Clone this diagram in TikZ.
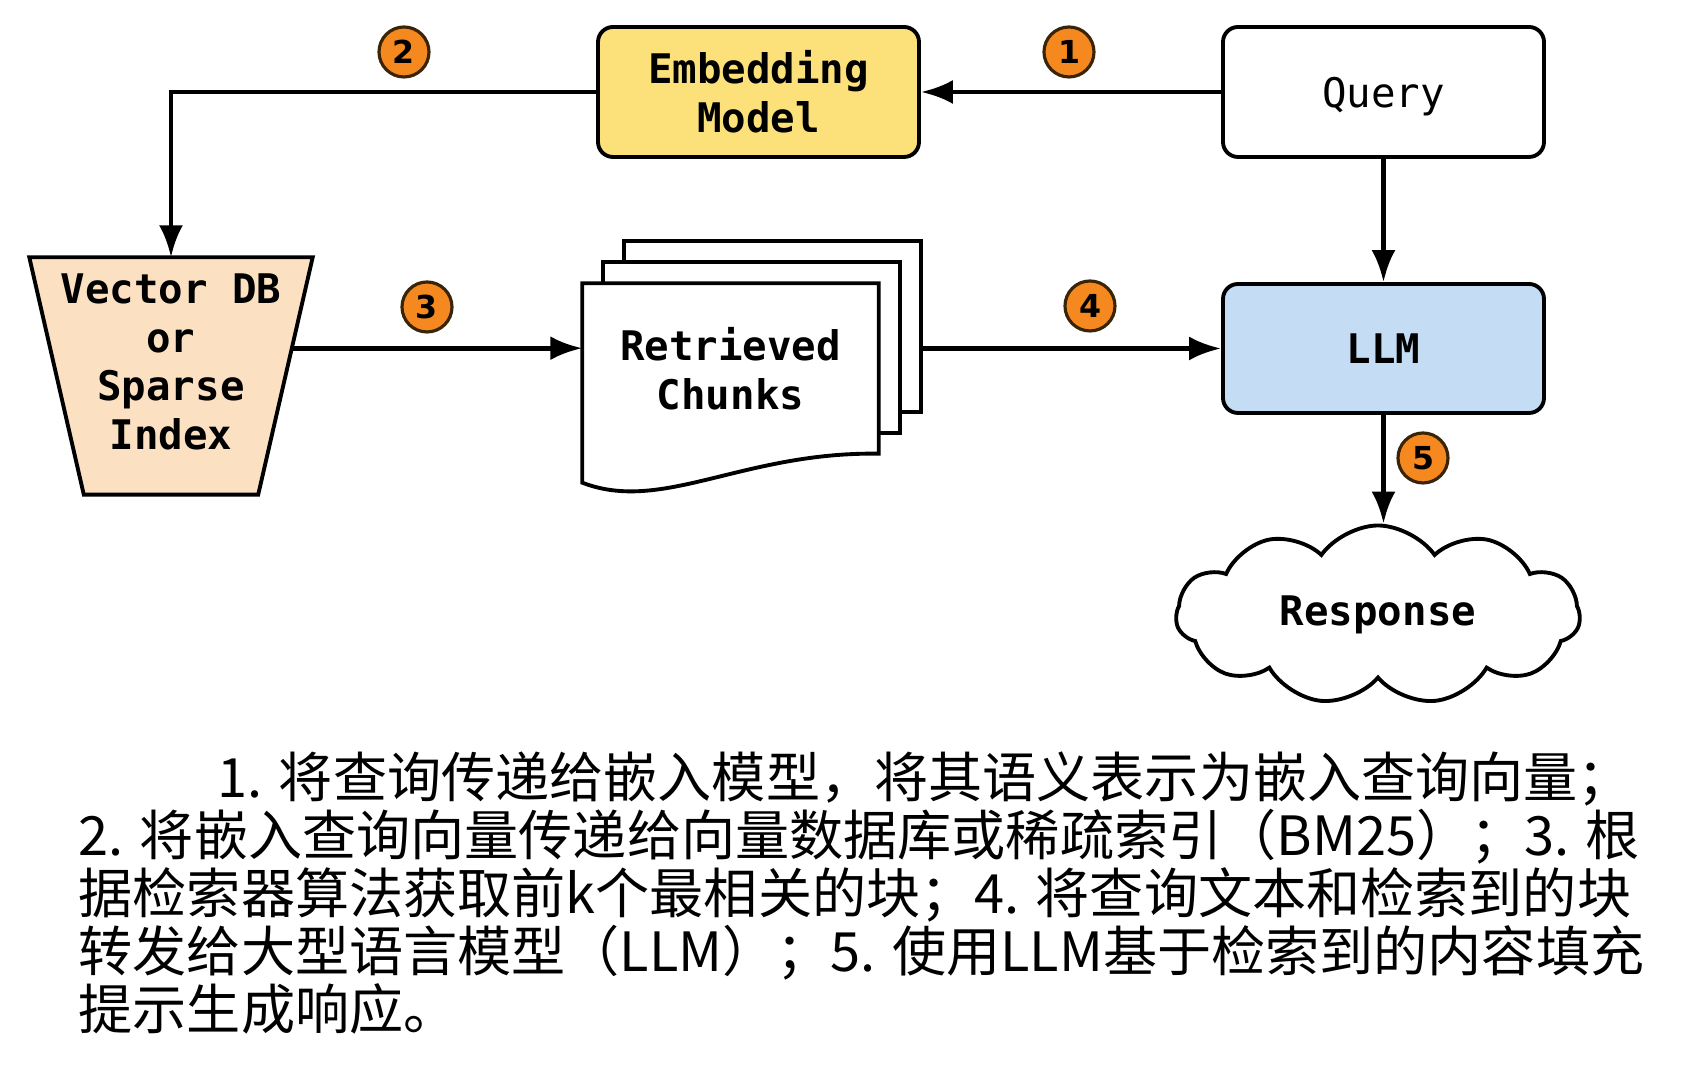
\documentclass[tikz,border=0pt]{standalone}
\usepackage{fontspec}
\usepackage{tikz}
\usetikzlibrary{arrows.meta, shapes.symbols, backgrounds, calc}
\newfontfamily\boxfont{DejaVu Sans Mono}
\newfontfamily\badgefont{DejaVu Sans}
\newfontfamily\cjk{Noto Sans CJK SC}
\newcommand{\nodetextsize}{\fontsize{11.6}{13.9}\selectfont}
\definecolor{embyellow}{HTML}{FCE17A}
\definecolor{llmblue}{HTML}{C4DDF4}
\definecolor{dbpeach}{HTML}{FCE0C2}
\definecolor{badgeorange}{HTML}{F5891F}
\definecolor{badgeline}{HTML}{3A2408}
\tikzstyle{box}=[rectangle, draw=black, line width=1.1pt, rounded corners=1.5mm, minimum width=3.21cm, minimum height=1.3cm, align=center, font=\boxfont\bfseries\nodetextsize]
\tikzstyle{plain}=[rectangle, inner sep=0pt, align=center, font=\boxfont\bfseries\nodetextsize]
\tikzstyle{shapeline}=[draw=black, line width=1.1pt]
\tikzstyle{badge}=[circle, fill=badgeorange, draw=badgeline, line width=0.9pt, minimum size=0.5cm, inner sep=0pt, font=\badgefont\bfseries\fontsize{9}{10}\selectfont]
\tikzstyle{arrow}=[draw=black, line width=1.4pt, >={Latex[length=3.2mm, width=2.4mm]}]

\begin{document}
\begin{tikzpicture}
	\useasboundingbox (0, 0) rectangle (16.99, 10.75);
	\begin{scope}
		\node (emb) at (7.585, 9.83)[box, fill=embyellow] {Embedding\\Model};
		\node (query) at (13.835, 9.83)[box, fill=white, text depth=0pt, font=\boxfont\nodetextsize] {Query};
		\node (llm) at (13.835, 7.265)[box, fill=llmblue, minimum height=1.29cm] {LLM};
		\node (vdb) at (1.71, 7.13)[plain, minimum width=2.82cm, minimum height=2.08cm] {Vector DB\\or\\Sparse\\Index};
		\node (chunks) at (7.305, 7.065)[plain, minimum width=2.95cm, minimum height=1.69cm] {Retrieved\\Chunks};
		\node (resp) at (13.78, 4.60)[cloud, shapeline, fill=white, cloud puffs=11, cloud puff arc=110, aspect=2.3, minimum width=4.04cm, minimum height=1.79cm, font=\boxfont\bfseries\nodetextsize] {Response};
		\node (b1) at (10.69, 10.23)[badge] {1};
		\node (b2) at (4.04, 10.23)[badge] {2};
		\node (b3) at (4.27, 7.68)[badge] {3};
		\node (b4) at (10.90, 7.69)[badge] {4};
		\node (b5) at (14.23, 6.17)[badge] {5};
		\node (note) at (0.78, 3.24)[anchor=north west, inner sep=0pt, align=left, font=\cjk\fontsize{15.4}{16.5}\selectfont] {%
			\hspace*{1.39cm}1. 将查询传递给嵌入模型，将其语义表示为嵌入查询向量；\\
			2. 将嵌入查询向量传递给向量数据库或稀疏索引（BM25）；3. 根\\
			据检索器算法获取前k个最相关的块；4. 将查询文本和检索到的块\\
			转发给大型语言模型（LLM）；5. 使用LLM基于检索到的内容填充\\
			提示生成响应。};
	\end{scope}
	% shapes behind the texts
	\begin{scope}[on background layer]
		\draw[shapeline, fill=dbpeach] (vdb.north west) -- (vdb.north east) -- ([shift={(-0.545,-0.28)}]vdb.south east) -- ([shift={(0.545,-0.28)}]vdb.south west) -- cycle;
		\foreach \s in {0.42, 0.21}
			\draw[shapeline, fill=white] ([shift={(\s,\s)}]chunks.south west) rectangle ([shift={(\s,\s)}]chunks.north east);
		\draw[shapeline, fill=white] (chunks.north west) -- (chunks.north east) -- (chunks.south east) .. controls ([shift={(1.6,0.02)}]chunks.south west) and ([shift={(0.8,-0.6)}]chunks.south west) .. ([yshift=-0.29cm]chunks.south west) -- cycle;
	\end{scope}
	\begin{scope}
		\coordinate (dbout) at ($(vdb.north east)!0.383!([shift={(-0.545,-0.28)}]vdb.south east)$);
		\coordinate (stack) at ([xshift=4.2mm]chunks.east);
		\path [arrow, ->] (query) edge (emb);
		\draw [arrow, ->] (emb.west) -| (vdb.north);
		\draw [arrow, ->] (dbout) -- (dbout -| chunks.west);
		\draw [arrow, ->] (stack |- llm) -- (llm);
		\path [arrow, ->] (query) edge (llm);
		\draw [arrow, ->] (llm.south) -- (llm.south |- resp.north);
	\end{scope}
\end{tikzpicture}
\end{document}
